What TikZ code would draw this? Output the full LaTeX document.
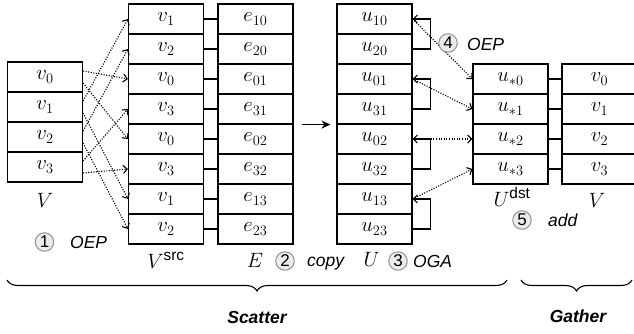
\documentclass[tikz,border=0pt]{standalone}
\usepackage{amsmath}
\usepackage{fontspec}
\setsansfont{Liberation Sans}
\usetikzlibrary{arrows.meta,decorations.pathreplacing,calc}
\begin{document}
\begin{tikzpicture}[x=1pt,y=-1pt,
  every node/.style={font=\fontsize{21.5}{25}\selectfont},
  cell/.style={draw, line width=1.1pt, minimum width=75pt, minimum height=30pt, inner sep=0pt},
  link/.style={line width=1.1pt},
  dotarrow/.style={dash pattern=on 1.1pt off 1.5pt, line width=1.1pt, -{Straight Barb[length=4pt,width=8pt]}},
  barrow/.style={line width=1.1pt, -{Straight Barb[length=4pt,width=8pt]}},
  stepcirc/.style={circle, draw=gray!85, fill=gray!15, line width=1pt, minimum size=18.5pt, inner sep=0pt, font=\sffamily\fontsize{17}{19}\selectfont},
  steptxt/.style={anchor=base west, inner sep=0pt, font=\sffamily\itshape\fontsize{17.5}{20}\selectfont},
  phase/.style={anchor=base, inner sep=0pt, font=\sffamily\bfseries\itshape\fontsize{17.5}{20}\selectfont},
  lbl/.style={anchor=base, inner sep=0pt, font=\fontsize{22}{25}\selectfont},
  bracestyle/.style={decorate, line width=1.1pt, decoration={brace, amplitude=11pt, mirror}}
]
\useasboundingbox (0,0) rectangle (634,333);

% left V
\foreach \i in {0,...,3} \node[cell] (vl\i) at (45,{77+30*\i}) {$v_{\i}$};
% V src
\foreach \t [count=\i] in {1,2,0,3,0,3,1,2} \node[cell] (vs\i) at (166,{-11+30*\i}) {$v_{\t}$};
% E
\foreach \t [count=\i] in {10,20,01,31,02,32,13,23} {
  \node[cell] (e\i) at (255.5,{-11+30*\i}) {$e_{\t}$};
  \draw[link] (vs\i.east) -- (e\i.west);
}
% U
\foreach \t [count=\i] in {10,20,01,31,02,32,13,23} \node[cell] (u\i) at (374.5,{-11+30*\i}) {$u_{\t}$};
% U dst and V right
\foreach \i in {0,...,3} {
  \node[cell] (ud\i) at (510.5,{79+30*\i}) {$u_{*\i}$};
  \node[cell] (vr\i) at (599.5,{79+30*\i}) {$v_{\i}$};
  \draw[link] (ud\i.east) -- (vr\i.west);
}

% OEP arrows V -> V src
\foreach \a/\b/\o in {0/3/-6, 0/5/6, 1/1/-6, 1/7/6, 2/2/-6, 2/8/6, 3/4/-6, 3/6/6}
  \draw[dotarrow] ($(vl\a.east)+(0,\o)$) -- (vs\b.west);

% copy arrow
\coordinate (ea) at ($(e4.south east)+(8,0)$);
\coordinate (ub) at ($(u4.south west)+(-6,0)$);
\draw[line width=1.1pt, -{Stealth[length=9pt,width=8pt]}] (ea) -- (ub);

% OGA brackets
\foreach \k in {1,3,5,7} {
  \pgfmathtruncatemacro\n{\k+1}
  \draw[barrow] (u\n.east) -- ++(18,0) |- (u\k.east);
}
% OEP U -> U dst
\foreach \k/\d in {1/0,3/1,5/2,7/3}
  \draw[dotarrow] (u\k.east) -- (ud\d.west);

% labels
\node[lbl] (lv) at (45,207) {$V$};
\node[lbl] (lvs) at (166,268) {$V^{\text{\sffamily src}}$};
\node[lbl] (le) at (255,267) {$E$};
\node[lbl] (lu) at (371.5,266) {$U$};
\node[lbl] (lud) at (512,206) {$U^{\text{\sffamily dst}}$};
\node[lbl] (lvr) at (597,207) {$V$};

% steps
\node[stepcirc] (s1) at (44.5,242) {1};
\node[steptxt] (t1) at (70,248) {OEP};
\node[stepcirc] (s2) at (285,261) {2};
\node[steptxt] (t2) at (307,266) {copy};
\node[stepcirc] (s3) at (398,261) {3};
\node[steptxt] (t3) at (413,267) {OGA};
\node[stepcirc] (s4) at (448,43) {4};
\node[steptxt] (t4) at (467,50) {OEP};
\node[stepcirc] (s5) at (522,220) {5};
\node[steptxt] (t5) at (548,226) {add};

% braces
\coordinate (b1a) at (7,280);
\coordinate (b1b) at (507,280);
\coordinate (b2a) at (521,280);
\coordinate (b2b) at (632,280);
\draw[bracestyle] (b1a) -- (b1b);
\draw[bracestyle] (b2a) -- (b2b);
\node[phase] (scatter) at (257,323) {Scatter};
\node[phase] (gather) at (578,322) {Gather};
\end{tikzpicture}
\end{document}
